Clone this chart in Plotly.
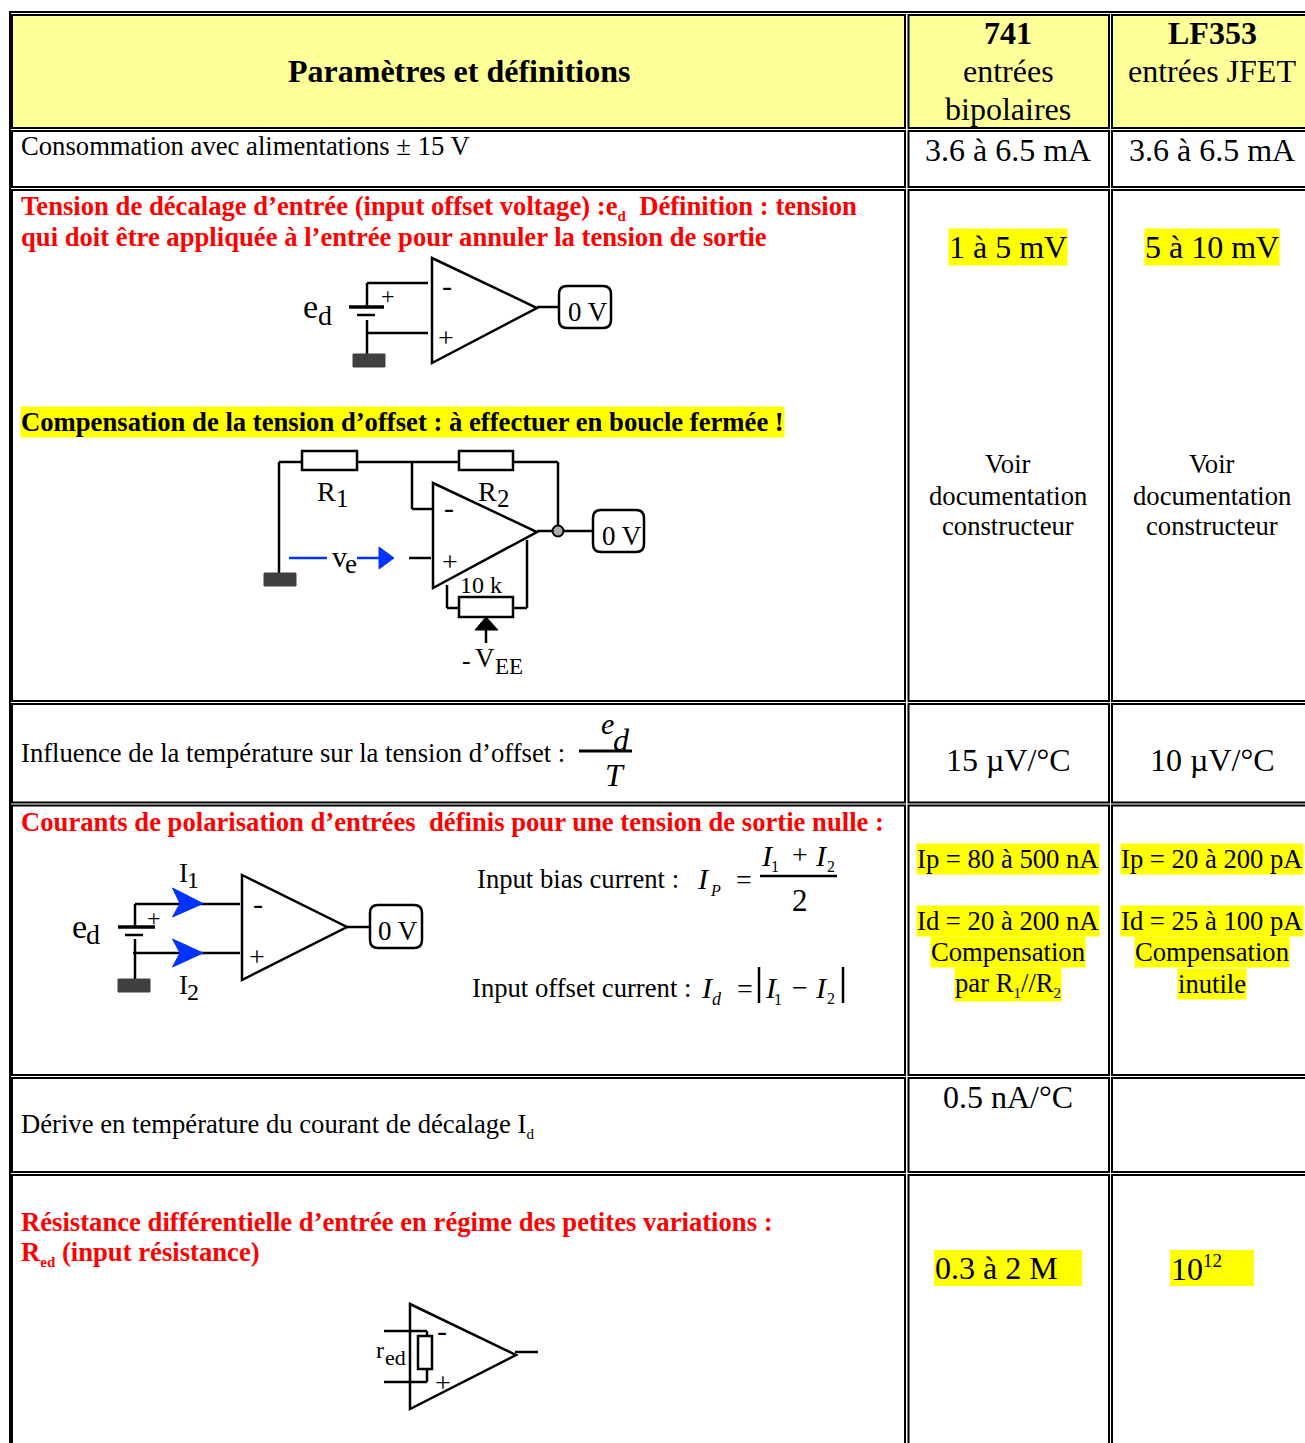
import plotly.graph_objects as go

# table geometry in page pixels
col_edges = [(12, 905), (908.5, 1109), (1112, 1325)]
row_edges = [(15, 128), (131, 187), (190, 701), (704, 802.5), (805.5, 1075), (1078, 1172), (1175, 1465)]

SM = '<span style="font-size:15px">'


def sub(s):
    return f"<sub>{SM}{s}</span></sub>"


header_col1 = "Paramètres et définitions"
header_741 = ["741", "entrées", "bipolaires"]
header_lf353 = ["LF353", "entrées JFET"]

row_labels_black = [
    "Consommation avec alimentations ± 15 V",
    "Influence de la température sur la tension d’offset :",
    "Dérive en température du courant de décalage I" + sub("d"),
]
offset_title = [
    "Tension de décalage d’entrée (input offset voltage) :e" + sub("d") + "  Définition : tension",
    "qui doit être appliquée à l’entrée pour annuler la tension de sortie",
]
compensation_title = "Compensation de la tension d’offset : à effectuer en boucle fermée !"
bias_title = "Courants de polarisation d’entrées  définis pour une tension de sortie nulle :"
resistance_title = [
    "Résistance différentielle d’entrée en régime des petites variations :",
    "R" + sub("ed") + " (input résistance)",
]

consumption = ["3.6 à 6.5 mA", "3.6 à 6.5 mA"]
offset_voltage = ["1 à 5 mV", "5 à 10 mV"]
doc_lines = ["Voir", "documentation", "constructeur"]
temp_drift = ["15 µV/°C", "10 µV/°C"]
bias_741 = ["Ip = 80 à 500 nA", "Id = 20 à 200 nA", "Compensation", "par R" + sub("1") + "//R" + sub("2")]
bias_lf353 = ["Ip = 20 à 200 pA", "Id = 25 à 100 pA", "Compensation", "inutile"]
current_drift = "0.5 nA/°C"
input_res = ["0.3 à 2 M", '10<sup><span style="font-size:19px">12</span></sup>']

FONT = "Liberation Serif"
BODY = 26.67
BIG = 32
HEADER_YELLOW = "#ffff99"
MARK_YELLOW = "#ffff00"
RED = "#ff0000"
BLUE = "#0033ff"
GROUND = "#404040"
WIRE = 2.5

shapes = []
annotations = []


def line(x0, y0, x1, y1, w=WIRE, color="black"):
    shapes.append(dict(type="line", x0=x0, y0=y0, x1=x1, y1=y1, line=dict(color=color, width=w)))


def poly(points, w=WIRE, color="black", fill="rgba(0,0,0,0)"):
    path = "M " + " L ".join(f"{x},{y}" for x, y in points)
    shapes.append(dict(type="path", path=path + " Z", line=dict(color=color, width=w), fillcolor=fill))


def rect(x0, y0, x1, y1, w=WIRE, color="black", fill="rgba(0,0,0,0)"):
    shapes.append(dict(type="rect", x0=x0, y0=y0, x1=x1, y1=y1, line=dict(color=color, width=w), fillcolor=fill))


def rounded(x0, y0, x1, y1, r=8, w=WIRE):
    path = (f"M {x0+r},{y0} L {x1-r},{y0} Q {x1},{y0} {x1},{y0+r} L {x1},{y1-r} Q {x1},{y1} {x1-r},{y1} "
            f"L {x0+r},{y1} Q {x0},{y1} {x0},{y1-r} L {x0},{y0+r} Q {x0},{y0} {x0+r},{y0} Z")
    shapes.append(dict(type="path", path=path, line=dict(color="black", width=w)))


def glyph(x, y, s, size=24, color="black", anchor="center", bold=False, italic=False, bg=None):
    if bold:
        s = f"<b>{s}</b>"
    if italic:
        s = f"<i>{s}</i>"
    annotations.append(dict(x=x, y=y, text=s, showarrow=False, xanchor=anchor, yanchor="middle",
                            font=dict(family=FONT, size=size, color=color), bgcolor=bg, borderpad=0))


def text(x, y, s, size=BODY, color="black", anchor="left", bold=False, bg=None):
    # annotation boxes sit a pixel low and to the right of the html text
    glyph(x - 1 if anchor == "left" else x, y - 1, s, size, color, anchor, bold, False, bg)


def opamp(x, top, bottom, apex_x, apex_y):
    poly([(x, top), (apex_x, apex_y), (x, bottom)])


def zero_volt(x0, y0, x1, y1, tx, ty):
    rounded(x0, y0, x1, y1)
    glyph(tx, ty, "0 V", 27)


# outer table frame and cells
rect(10, 12, 1335, 1475, w=2)
for i, (y0, y1) in enumerate(row_edges):
    for x0, x1 in col_edges:
        rect(x0, y0, x1, y1, w=2, fill=HEADER_YELLOW if i == 0 else "white")

# header row
text(459, 72, header_col1, BIG, anchor="center", bold=True)
text(1008, 34, header_741[0], BIG, anchor="center", bold=True)
text(1008, 72, header_741[1], BIG, anchor="center")
text(1008, 110, header_741[2], BIG, anchor="center")
text(1212, 34, header_lf353[0], BIG, anchor="center", bold=True)
text(1212, 72, header_lf353[1], BIG, anchor="center")

# consumption row
text(21, 147, row_labels_black[0])
text(1008, 151, consumption[0], BIG, anchor="center")
text(1212, 151, consumption[1], BIG, anchor="center")

# offset voltage row
text(21, 208, offset_title[0], color=RED, bold=True)
text(21, 238, offset_title[1], color=RED, bold=True)
text(21, 423, compensation_title, bold=True, bg=MARK_YELLOW)
text(1008, 248, offset_voltage[0], BIG, anchor="center", bg=MARK_YELLOW)
text(1212, 248, offset_voltage[1], BIG, anchor="center", bg=MARK_YELLOW)
for col_x in (1008, 1212):
    for y, s in zip((465, 497, 527), doc_lines):
        text(col_x, y, s, anchor="center")

# first schematic: offset definition
opamp(432, 258, 363, 537, 308)
line(367, 283, 428, 283)
line(367, 283, 367, 307)
line(349, 307, 384, 307, w=3.5)
line(357, 315, 375, 315)
line(367, 320, 367, 354)
line(367, 333, 428, 333)
rect(353, 354, 385, 367, w=1, color=GROUND, fill=GROUND)
line(537, 307, 559, 307)
zero_volt(559, 286, 611, 328, 588, 312)
glyph(310.5, 306, "e", 34)
glyph(324.5, 315, "d", 28)
glyph(388, 296, "+", 24)
glyph(447, 285, "-", 30)
glyph(446, 337, "+", 28)

# second schematic: offset compensation
line(279, 462, 302, 462)
line(279, 462, 279, 574)
rect(302, 451, 357, 470, fill="white")
line(357, 462, 459, 462)
rect(459, 451, 513, 470, fill="white")
line(513, 462, 558, 462)
line(558, 462, 558, 526)
line(412, 462, 412, 509)
line(412, 509, 432, 509)
opamp(433, 483, 588, 537, 532)
line(537, 531, 593, 531)
shapes.append(dict(type="circle", x0=552.5, y0=525.5, x1=563.5, y1=536.5, line=dict(color="black", width=2), fillcolor="#aaaaaa"))
zero_volt(593, 510, 644, 552, 621.5, 536)
rect(264, 573, 296, 586, w=1, color=GROUND, fill=GROUND)
line(289, 558, 327, 558, color=BLUE)
line(357, 558, 380, 558, color=BLUE)
poly([(379, 547), (394, 558), (379, 569)], w=1, color=BLUE, fill=BLUE)
line(409, 558, 431, 558)
line(527, 540, 527, 608)
line(447, 585, 447, 608)
line(447, 608, 459, 608)
line(513, 608, 527, 608)
rect(459, 597, 513, 617, fill="white")
poly([(486, 617), (475, 630), (498, 630)], w=1, fill="black")
line(486, 630, 486, 643)
glyph(326.5, 491, "R", 28)
glyph(342.5, 498, "1", 25)
glyph(487.5, 491, "R", 28)
glyph(503, 498, "2", 25)
glyph(339.5, 556, "v", 30)
glyph(351, 564, "e", 27)
glyph(449, 507, "-", 30)
glyph(450, 561, "+", 28)
glyph(481, 585, "10 k", 24)
glyph(466, 660, "-", 26)
glyph(485, 658, "V", 27)
glyph(509, 666, "EE", 23)

# temperature influence row
text(21, 754, row_labels_black[1])
glyph(607, 723, "e", 30, italic=True)
glyph(621, 740, "d", 32, italic=True)
line(579, 751, 632, 751, w=3)
glyph(615, 775, "T", 32, italic=True)
text(1008, 761, temp_drift[0], BIG, anchor="center")
text(1212, 761, temp_drift[1], BIG, anchor="center")

# bias currents row
text(21, 823, bias_title, color=RED, bold=True)
opamp(242, 875, 980, 347, 927)
line(135, 904, 240, 904)
line(135, 904, 135, 927)
line(118, 927, 155, 927, w=3.5)
line(125, 935, 143, 935)
line(135, 939, 135, 979)
line(133, 953, 240, 953)
rect(118, 979, 150, 992, w=1, color=GROUND, fill=GROUND)
line(346, 927, 370, 927)
zero_volt(370, 905, 422, 948, 398, 931)
poly([(172.5, 888), (203, 903.5), (172.5, 917), (180, 903.5)], w=1, color=BLUE, fill=BLUE)
poly([(172.5, 939), (203, 953), (172.5, 967), (180, 953)], w=1, color=BLUE, fill=BLUE)
glyph(183.5, 872.5, "I", 27)
glyph(192.5, 880, "1", 24)
glyph(183.5, 985, "I", 27)
glyph(193, 991.5, "2", 24)
glyph(79.5, 926, "e", 34)
glyph(92.5, 934, "d", 28)
glyph(154, 918, "+", 24)
glyph(258, 903, "-", 30)
glyph(257, 956, "+", 28)

text(477, 880, "Input bias current :")
glyph(703, 878, "I", 30, italic=True)
glyph(715, 890, "P", 16, italic=True)
glyph(744, 879, "=", 28)
glyph(767, 855, "I", 30, italic=True)
glyph(775, 866, "1", 16)
glyph(800, 854, "+", 28)
glyph(821, 855, "I", 30, italic=True)
glyph(830.5, 866, "2", 16)
line(760, 876, 837, 876)
glyph(800, 900, "2", 31)
text(472, 989, "Input offset current :")
glyph(707, 987, "I", 30, italic=True)
glyph(717, 999, "d", 18, italic=True)
glyph(744.5, 988, "=", 28)
line(759, 967, 759, 1003)
line(843, 967, 843, 1003)
glyph(771, 987, "I", 30, italic=True)
glyph(778, 999, "1", 16)
glyph(800, 987, "−", 28)
glyph(821, 987, "I", 30, italic=True)
glyph(831, 998, "2", 16)

for col_x, vals in ((1008, bias_741), (1212, bias_lf353)):
    for y, s in zip((860, 922, 953, 985), vals):
        text(col_x, y, s, anchor="center", bg=MARK_YELLOW)

# current drift row
text(21, 1126, row_labels_black[2])
text(1008, 1098, current_drift, BIG, anchor="center")

# input resistance row
text(21, 1223, resistance_title[0], color=RED, bold=True)
text(21, 1254, resistance_title[1], color=RED, bold=True)
rect(934, 1250, 1082, 1286, w=0, fill=MARK_YELLOW)
rect(1170, 1250, 1254, 1286, w=0, fill=MARK_YELLOW)
text(935, 1269, input_res[0], BIG)
text(1171, 1269, input_res[1], BIG)
opamp(410, 1304, 1409, 516, 1355)
line(384, 1331, 427, 1331)
line(384, 1382, 427, 1382)
line(427, 1331, 427, 1336)
line(427, 1369, 427, 1382)
rect(418, 1336, 432, 1369)
line(515, 1352, 538, 1352)
glyph(380, 1350, "r", 24)
glyph(395, 1357, "ed", 22)
glyph(442, 1330, "-", 30)
glyph(443, 1382, "+", 28)

fig = go.Figure()
fig.update_layout(
    width=1305,
    height=1443,
    margin=dict(l=0, r=0, t=0, b=0),
    paper_bgcolor="white",
    plot_bgcolor="white",
    xaxis=dict(range=[0, 1305], visible=False, fixedrange=True),
    yaxis=dict(range=[1443, 0], visible=False, fixedrange=True),
    shapes=shapes,
    annotations=annotations,
    showlegend=False,
)

fig.write_html("out.html", config=dict(displayModeBar=False),
               post_script="document.body.style.margin='0';document.body.style.overflow='hidden';")
